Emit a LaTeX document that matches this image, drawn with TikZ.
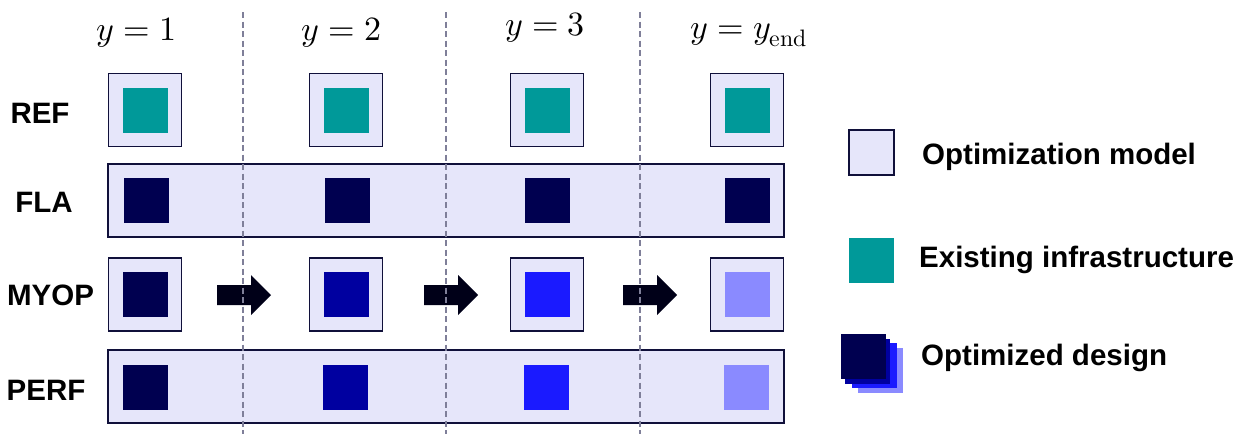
\documentclass[tikz,border=0pt]{standalone}
\usepackage{fontspec}
\usepackage{unicode-math}
\setmainfont{Liberation Sans}
\setmathfont{Latin Modern Math}
\begin{document}
\begin{tikzpicture}[x=1pt,y=-1pt,
  modelbox/.style={draw=edgec,line width=1.6pt,fill=lav,minimum width=73pt,minimum height=73pt,inner sep=0pt},
  band/.style={draw=edgec,line width=1.6pt,fill=lav,inner sep=0pt},
  design/.style={minimum width=45pt,minimum height=45pt,inner sep=0pt,draw=none},
  rowlabel/.style={font=\fontsize{29.5}{32}\selectfont\bfseries,inner sep=0pt,anchor=base},
  legtext/.style={font=\fontsize{29.5}{32}\selectfont\bfseries,inner sep=0pt,anchor=base west},
  yearlabel/.style={font=\fontsize{34}{38}\selectfont,inner sep=0pt,anchor=base},
  sep/.style={draw=sepc,line width=2.6pt,dash pattern=on 6pt off 3.5pt},
  blockarrow/.style={fill=arrowc,draw=none}]
\definecolor{lav}{HTML}{E6E6FA}
\definecolor{edgec}{HTML}{10103A}
\definecolor{teal}{HTML}{009999}
\definecolor{dA}{HTML}{000050}
\definecolor{dB}{HTML}{0000A0}
\definecolor{dC}{HTML}{1A1AFF}
\definecolor{dD}{HTML}{8A8AFF}
\definecolor{sepc}{HTML}{7F7F99}
\definecolor{arrowc}{HTML}{000018}
\useasboundingbox (0,0) rectangle (1243,434);

% year headings
\node[yearlabel] (y1) at (136.5,40) {$y=1$};
\node[yearlabel] (y2) at (341.5,40) {$y=2$};
\node[yearlabel] (y3) at (545,35) {$y=3$};
\node[yearlabel] (y4) at (749,38) {$y=y_{\symup{end}}$};

% row labels
\node[rowlabel] (lref) at (40,123) {REF};
\node[rowlabel] (lfla) at (44,212) {FLA};
\node[rowlabel] (lmyop) at (50.5,305) {MYOP};
\node[rowlabel] (lperf) at (46,400) {PERF};

% REF: one model per year, existing infrastructure only
\foreach \x [count=\i] in {145,346,547,747}{
  \node[modelbox] (ref\i) at (\x,110) {};
  \node[design,fill=teal] (refd\i) at (ref\i.center) {};
}

% FLA: one model over all years
\node[band,minimum width=676pt,minimum height=73pt] (fla) at (446,200.5) {};
\foreach \x [count=\i] in {146.5,347,547.5,747.5}{
  \node[design,fill=dA] (flad\i) at (\x,200) {};
}

% MYOP: one model per year, passed on year to year
\foreach \x/\c [count=\i] in {145/dA,346/dB,547/dC,747/dD}{
  \node[modelbox] (myop\i) at (\x,294.5) {};
  \node[design,fill=\c] (myopd\i) at (myop\i.center) {};
}
\foreach \cx/\i in {244/a,451/b,650/c}{
  \coordinate (arr\i) at (\cx,295);
  \fill[blockarrow] ([shift={(-27,-10)}]arr\i) -- ([shift={(7,-10)}]arr\i)
    -- ([shift={(7,-20)}]arr\i) -- ([shift={(27,0)}]arr\i)
    -- ([shift={(7,20)}]arr\i) -- ([shift={(7,10)}]arr\i)
    -- ([shift={(-27,10)}]arr\i) -- cycle;
}

% PERF: one model over all years
\node[band,minimum width=676pt,minimum height=73pt] (perf) at (446,386.5) {};
\foreach \x/\c [count=\i] in {145.5/dA,345.5/dB,546.5/dC,746/dD}{
  \node[design,fill=\c] (perfd\i) at (\x,387.5) {};
}

% year separators
\foreach \x in {243,446,640}{
  \draw[sep] (\x,12) -- (\x,434);
}

% legend
\node[modelbox,minimum width=45pt,minimum height=45pt] (legmodel) at (871.5,152.5) {};
\node[legtext] (legmodeltxt) at (922,164) {Optimization model};
\node[design,fill=teal] (leginfra) at (871.5,260.5) {};
\node[legtext] (leginfratxt) at (919,267) {Existing infrastructure};
\node[design,fill=dD] (legd4) at (880.5,370.5) {};
\node[design,fill=dC] (legd3) at (874.5,365.5) {};
\node[design,fill=dB] (legd2) at (867.5,361) {};
\node[design,fill=dA] (legd1) at (863.5,356.5) {};
\node[legtext] (legdtxt) at (921,365) {Optimized design};
\end{tikzpicture}
\end{document}
